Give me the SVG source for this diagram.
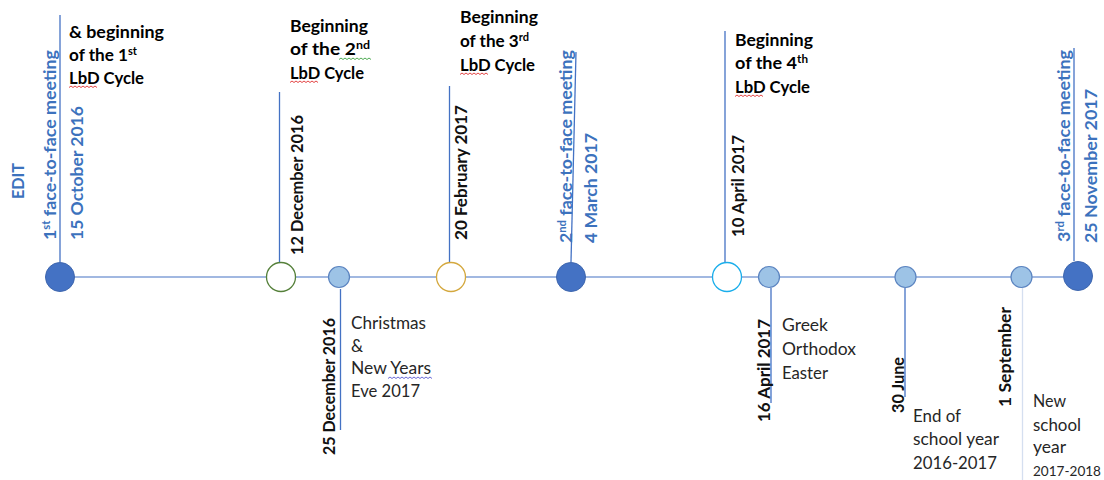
<svg xmlns="http://www.w3.org/2000/svg" width="1104" height="480" viewBox="0 0 1104 480">
  <style>
    text { font-family: Lato, "Liberation Sans", sans-serif; }
    .hd { font-weight: bold; font-size: 17px; fill: #000; }
    .dt { font-weight: bold; font-size: 17.5px; fill: #111; }
    .bl { font-weight: bold; font-size: 17.5px; fill: #3C72BD; }
    .rg { font-size: 17px; fill: #262626; }
    .sup { font-size: 11px; }
    .tick { stroke: #4472C4; stroke-width: 1.3; fill: none; }
    .pale { stroke: #D5DFF0; stroke-width: 1.3; fill: none; }
    .axis { stroke: #4472C4; stroke-width: 1.2; fill: none; }
    .major { fill: #4472C4; stroke: #3F67AE; stroke-width: 1; }
    .minor { fill: #9DC3E6; stroke: #5B84C0; stroke-width: 1.2; }
    .open { fill: #fff; stroke-width: 1.3; }
    .sq { fill: none; stroke-width: 0.9; }
  </style>

  <!-- axis and tick lines -->
  <g id="connectors">
    <line class="axis" x1="60" y1="277" x2="1078" y2="277"/>
    <line class="tick" x1="60" y1="15" x2="60" y2="262"/>
    <line class="tick" x1="279.5" y1="92" x2="279.5" y2="262"/>
    <line class="tick" x1="340.5" y1="289" x2="340.5" y2="430"/>
    <line class="tick" x1="449.5" y1="86" x2="449.5" y2="262"/>
    <line class="tick" x1="576" y1="52" x2="571" y2="262"/>
    <line class="tick" x1="725" y1="31" x2="725" y2="262"/>
    <line class="tick" x1="771" y1="288" x2="771" y2="403"/>
    <line class="tick" x1="905" y1="288" x2="905" y2="397"/>
    <line class="pale" x1="1022.5" y1="288" x2="1022.5" y2="480"/>
    <line class="tick" x1="1074" y1="48" x2="1074" y2="261"/>
  </g>

  <g id="edit-label">
    <text class="bl" transform="translate(24,199) rotate(-90)" textLength="36" lengthAdjust="spacingAndGlyphs">EDIT</text>
  </g>

  <!-- 1st face-to-face meeting -->
  <g id="ev-15-oct-2016">
    <circle class="major" cx="60" cy="277" r="14.5"/>
    <text class="bl" transform="translate(56,240) rotate(-90)" textLength="190" lengthAdjust="spacingAndGlyphs">1<tspan class="sup" dy="-6">st</tspan><tspan dy="6"> face-to-face meeting</tspan></text>
    <text class="bl" transform="translate(83,240) rotate(-90)" textLength="134" lengthAdjust="spacingAndGlyphs">15 October 2016</text>
    <text class="hd" x="69" y="38" textLength="95" lengthAdjust="spacingAndGlyphs">&amp; beginning</text>
    <text class="hd" x="69" y="61" textLength="68" lengthAdjust="spacingAndGlyphs">of the 1<tspan class="sup" dy="-6">st</tspan></text>
    <text class="hd" x="69" y="84" textLength="75" lengthAdjust="spacingAndGlyphs">LbD Cycle</text>
    <path class="sq" stroke="#E03030" d="M69,87.5 l2,-1.5 l2,1.5 l2,-1.5 l2,1.5 l2,-1.5 l2,1.5 l2,-1.5 l2,1.5 l2,-1.5 l2,1.5 l2,-1.5 l2,1.5 l2,-1.5 l2,1.5"/>
  </g>

  <!-- 2nd LbD cycle -->
  <g id="ev-12-dec-2016">
    <circle class="open" stroke="#55803A" cx="281" cy="277" r="14.5"/>
    <text class="dt" transform="translate(303,255) rotate(-90)" textLength="140" lengthAdjust="spacingAndGlyphs">12 December 2016</text>
    <text class="hd" x="290" y="32" textLength="78" lengthAdjust="spacingAndGlyphs">Beginning</text>
    <text class="hd" x="290" y="55" textLength="80" lengthAdjust="spacingAndGlyphs">of the 2<tspan class="sup" dy="-6">nd</tspan></text>
    <text class="hd" x="290" y="79" textLength="74" lengthAdjust="spacingAndGlyphs">LbD Cycle</text>
    <path class="sq" stroke="#3AA040" d="M339,59.5 l2,-1.5 l2,1.5 l2,-1.5 l2,1.5 l2,-1.5 l2,1.5 l2,-1.5 l2,1.5 l2,-1.5 l2,1.5 l2,-1.5 l2,1.5 l2,-1.5 l2,1.5 l2,-1.5 l2,1.5"/>
    <path class="sq" stroke="#E03030" d="M290,82.5 l2,-1.5 l2,1.5 l2,-1.5 l2,1.5 l2,-1.5 l2,1.5 l2,-1.5 l2,1.5 l2,-1.5 l2,1.5 l2,-1.5 l2,1.5 l2,-1.5 l2,1.5"/>
  </g>

  <!-- Christmas holidays -->
  <g id="ev-25-dec-2016">
    <circle class="minor" cx="339" cy="277" r="10.5"/>
    <text class="dt" transform="translate(335,455) rotate(-90)" textLength="137" lengthAdjust="spacingAndGlyphs">25 December 2016</text>
    <text class="rg" x="351" y="329" textLength="75" lengthAdjust="spacingAndGlyphs">Christmas</text>
    <text class="rg" x="351" y="352">&amp;</text>
    <text class="rg" x="351" y="374" textLength="80" lengthAdjust="spacingAndGlyphs">New Years</text>
    <text class="rg" x="351" y="397" textLength="69" lengthAdjust="spacingAndGlyphs">Eve 2017</text>
    <path class="sq" stroke="#5A5AD0" d="M388,378.5 l2,-1.5 l2,1.5 l2,-1.5 l2,1.5 l2,-1.5 l2,1.5 l2,-1.5 l2,1.5 l2,-1.5 l2,1.5 l2,-1.5 l2,1.5 l2,-1.5 l2,1.5 l2,-1.5 l2,1.5 l2,-1.5 l2,1.5 l2,-1.5 l2,1.5 l2,-1.5 l2,1.5"/>
  </g>

  <!-- 3rd LbD cycle -->
  <g id="ev-20-feb-2017">
    <circle class="open" stroke="#D4A83E" cx="451" cy="277" r="14.5"/>
    <text class="dt" transform="translate(467,240) rotate(-90)" textLength="135" lengthAdjust="spacingAndGlyphs">20 February 2017</text>
    <text class="hd" x="460" y="23" textLength="78" lengthAdjust="spacingAndGlyphs">Beginning</text>
    <text class="hd" x="460" y="47" textLength="69" lengthAdjust="spacingAndGlyphs">of the 3<tspan class="sup" dy="-6">rd</tspan></text>
    <text class="hd" x="460" y="71" textLength="75" lengthAdjust="spacingAndGlyphs">LbD Cycle</text>
    <path class="sq" stroke="#E03030" d="M460,74.5 l2,-1.5 l2,1.5 l2,-1.5 l2,1.5 l2,-1.5 l2,1.5 l2,-1.5 l2,1.5 l2,-1.5 l2,1.5 l2,-1.5 l2,1.5 l2,-1.5 l2,1.5"/>
  </g>

  <!-- 2nd face-to-face meeting -->
  <g id="ev-4-mar-2017">
    <circle class="major" cx="571" cy="277" r="14.5"/>
    <text class="bl" transform="translate(572,243) rotate(-90)" textLength="193" lengthAdjust="spacingAndGlyphs">2<tspan class="sup" dy="-6">nd</tspan><tspan dy="6"> face-to-face meeting</tspan></text>
    <text class="bl" transform="translate(597,243) rotate(-90)" textLength="110" lengthAdjust="spacingAndGlyphs">4 March 2017</text>
  </g>

  <!-- 4th LbD cycle -->
  <g id="ev-10-apr-2017">
    <circle class="open" stroke="#1AAEEB" cx="727" cy="277" r="14.5"/>
    <text class="dt" transform="translate(744,237) rotate(-90)" textLength="102" lengthAdjust="spacingAndGlyphs">10 April 2017</text>
    <text class="hd" x="735" y="46" textLength="78" lengthAdjust="spacingAndGlyphs">Beginning</text>
    <text class="hd" x="735" y="69" textLength="73" lengthAdjust="spacingAndGlyphs">of the 4<tspan class="sup" dy="-6">th</tspan></text>
    <text class="hd" x="735" y="93" textLength="75" lengthAdjust="spacingAndGlyphs">LbD Cycle</text>
    <path class="sq" stroke="#E03030" d="M735,96.5 l2,-1.5 l2,1.5 l2,-1.5 l2,1.5 l2,-1.5 l2,1.5 l2,-1.5 l2,1.5 l2,-1.5 l2,1.5 l2,-1.5 l2,1.5 l2,-1.5 l2,1.5"/>
  </g>

  <!-- Orthodox Easter -->
  <g id="ev-16-apr-2017">
    <circle class="minor" cx="769" cy="277" r="10.5"/>
    <text class="dt" transform="translate(770,422) rotate(-90)" textLength="103" lengthAdjust="spacingAndGlyphs">16 April 2017</text>
    <text class="rg" x="782" y="331" textLength="46" lengthAdjust="spacingAndGlyphs">Greek</text>
    <text class="rg" x="782" y="355" textLength="74" lengthAdjust="spacingAndGlyphs">Orthodox</text>
    <text class="rg" x="782" y="379" textLength="46" lengthAdjust="spacingAndGlyphs">Easter</text>
  </g>

  <!-- End of school year -->
  <g id="ev-30-jun-2017">
    <circle class="minor" cx="905.5" cy="277" r="10.5"/>
    <text class="dt" transform="translate(904,413) rotate(-90)" textLength="56" lengthAdjust="spacingAndGlyphs">30 June</text>
    <text class="rg" x="913" y="422" textLength="48" lengthAdjust="spacingAndGlyphs">End of</text>
    <text class="rg" x="913" y="445" textLength="86" lengthAdjust="spacingAndGlyphs">school year</text>
    <text class="rg" x="913" y="469" textLength="84" lengthAdjust="spacingAndGlyphs">2016-2017</text>
  </g>

  <!-- New school year -->
  <g id="ev-1-sep-2017">
    <circle class="minor" cx="1021.5" cy="277" r="10.5"/>
    <text class="dt" transform="translate(1011,407) rotate(-90)" textLength="100" lengthAdjust="spacingAndGlyphs">1 September</text>
    <text class="rg" x="1033" y="407" textLength="33" lengthAdjust="spacingAndGlyphs">New</text>
    <text class="rg" x="1033" y="431" textLength="48" lengthAdjust="spacingAndGlyphs">school</text>
    <text class="rg" x="1033" y="453" textLength="33" lengthAdjust="spacingAndGlyphs">year</text>
    <text class="rg" x="1033" y="476" style="font-size:13px" textLength="68" lengthAdjust="spacingAndGlyphs">2017-2018</text>
  </g>

  <!-- 3rd face-to-face meeting -->
  <g id="ev-25-nov-2017">
    <circle class="major" cx="1078" cy="276" r="14.5"/>
    <text class="bl" transform="translate(1070,242) rotate(-90)" textLength="192" lengthAdjust="spacingAndGlyphs">3<tspan class="sup" dy="-6">rd</tspan><tspan dy="6"> face-to-face meeting</tspan></text>
    <text class="bl" transform="translate(1097,243) rotate(-90)" textLength="154" lengthAdjust="spacingAndGlyphs">25 November 2017</text>
  </g>
</svg>
